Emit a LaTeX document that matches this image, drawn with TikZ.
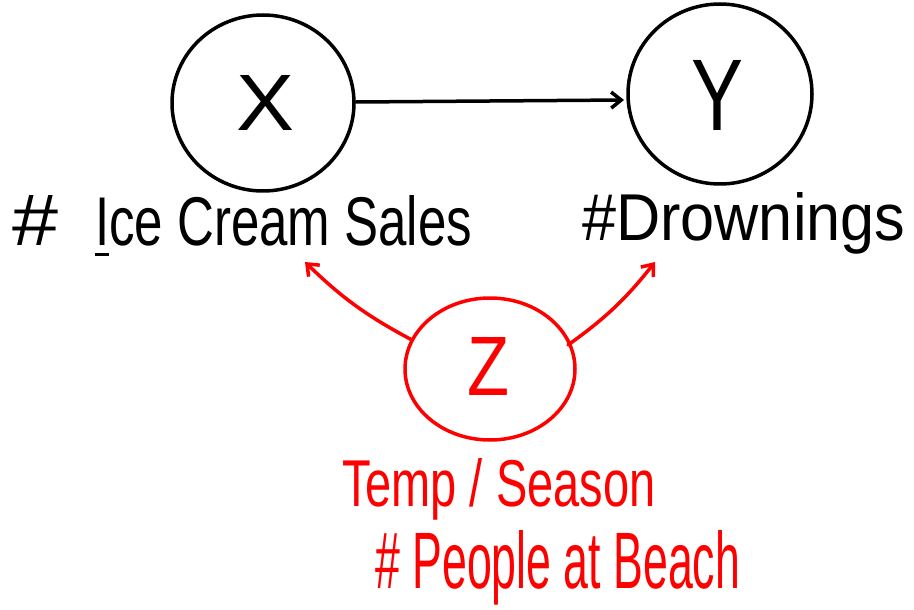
\documentclass[tikz,border=0pt]{standalone}
\usepackage{fontspec}
\setmainfont{Liberation Sans}
\usetikzlibrary{arrows.meta}
\definecolor{penred}{RGB}{255,0,0}
\begin{document}
\begin{tikzpicture}[x=1pt,y=-1pt,
  ink/.style={line width=3.5pt,line cap=round,line join=round},
  lbl/.style={anchor=base west,inner sep=0pt},
  arr/.style={ink,-{Straight Barb[length=10pt,width=16pt,line width=3.5pt]}}]
\useasboundingbox (0,0) rectangle (914,610);
\draw[ink] (263,103) ellipse [x radius=91,y radius=88];
\draw[ink] (720,94) ellipse [x radius=92,y radius=90];
\draw[ink,penred] (490,369) ellipse [x radius=85,y radius=71];
\coordinate (xr) at (356,102);
\coordinate (yl) at (624,100);
\node[inner sep=0pt] (xl) at (266,103) {\resizebox{58pt}{55pt}{X}};
\node[inner sep=0pt] (yv) at (718,95) {\resizebox{52pt}{70pt}{Y}};
\node[inner sep=0pt,text=penred] (zv) at (489,366) {\resizebox{42pt}{58pt}{Z}};
\draw[arr] (xr) -- (yl);
\node[lbl] (hash1) at (12,245) {\resizebox{46pt}{50pt}{\#}};
\node[lbl] (ice) at (95,245) {\resizebox{377pt}{50pt}{\underline{I}ce Cream Sales}};
\node[lbl] (drown) at (582,240) {\resizebox{323pt}{48pt}{\#Drownings}};
\node[lbl,text=penred] (temp) at (342,506) {\resizebox{313pt}{48pt}{Temp / Season}};
\node[lbl,text=penred] (beach) at (375,588) {\resizebox{365pt}{58pt}{\# People at Beach}};
\coordinate (zl) at (412,340);
\coordinate (zr) at (568,345);
\coordinate (icet) at (305,262);
\coordinate (drt) at (655,262);
\draw[arr,penred] (zl) to[bend left=8] (icet);
\draw[arr,penred] (zr) to[bend right=8] (drt);
\end{tikzpicture}
\end{document}
